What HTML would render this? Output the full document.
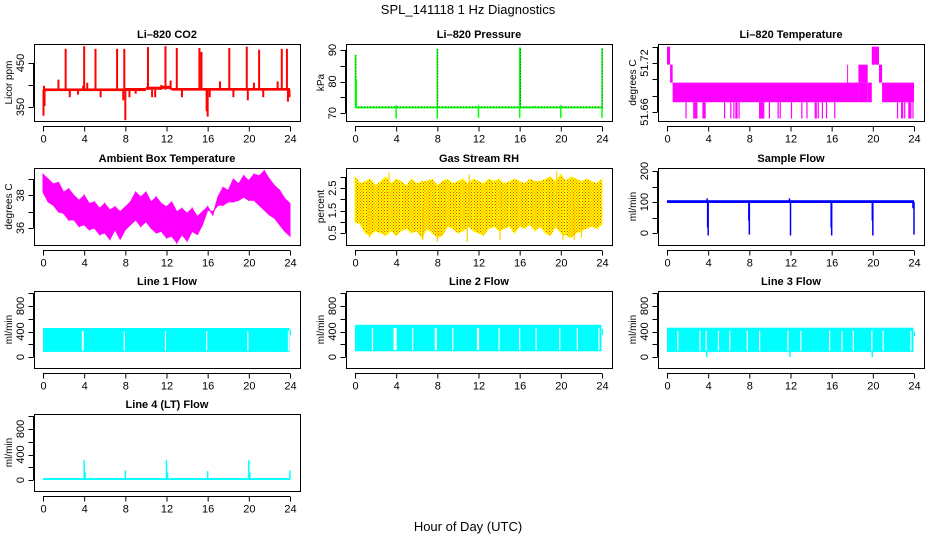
<!DOCTYPE html>
<html><head><meta charset="utf-8"><style>
html,body{margin:0;padding:0;background:#fff}
svg{display:block}
text{font-family:"Liberation Sans",sans-serif}
</style></head><body>
<svg id="c" width="936" height="540" viewBox="0 0 936 540" xmlns="http://www.w3.org/2000/svg">
<defs>
<pattern id="rhdots" width="3" height="3" patternUnits="userSpaceOnUse"><rect x="0" y="0" width="1" height="1" fill="#ff0000"/><rect x="1.5" y="1.5" width="1" height="1" fill="#ff0000"/></pattern>
</defs>
<text x="468" y="14" text-anchor="middle" font-size="13">SPL_141118  1 Hz Diagnostics</text>
<text x="468" y="531" text-anchor="middle" font-size="13">Hour of Day (UTC)</text>
</svg>
<script>
// ---- data ----
const xTicks = [0,4,8,12,16,20,24];
// CO2
const co2Base = [[0,386,392],[8,386,393],[10,389,396],[11.5,391,398],[12.5,387,393],[24,387,393]];
const co2Spikes = [[0.05,330],[0.1,398],[0.15,352],[1.5,412],[2.2,482],[2.6,372],[3.4,378],[3.9,398],[4.0,488],[4.3,405],[5.1,482],[5.6,372],[7.2,482],[7.9,482],[8.0,320],[7.8,365],[8.4,372],[9.0,380],[10.2,486],[10.6,372],[10.9,372],[11.9,488],[11.5,400],[12.4,410],[13.0,484],[13.5,372],[15.2,484],[15.4,475],[15.9,340],[16.0,328],[16.2,372],[17.2,408],[18.1,484],[18.5,372],[19.8,487],[19.9,365],[20.5,405],[21.0,480],[21.4,372],[22.8,408],[23.2,482],[23.7,482],[23.8,362],[23.95,372]];
// Pressure
const presBase = 71.8;
const presSpikes = [[0.05,88.5],[0.12,81],[8.0,90.4],[16.0,90.8],[16.05,90.8],[24.0,90.6],[4.0,68.3],[4.0,72.5],[8.0,68.3],[12.0,68.5],[12.0,72.5],[16.0,68.5],[17.5,72.3],[20.0,68.5],[20.0,72.5],[24.0,68.5]];
// Li-820 temperature: segments [start,end,lo,hi]
const tempSegs = [[0.0,0.3,51.718,51.740],[0.3,0.55,51.696,51.718],[0.55,18.6,51.672,51.696],[17.5,17.55,51.696,51.718],[18.6,19.5,51.696,51.718],[18.6,19.5,51.672,51.696],[19.5,19.9,51.672,51.696],[19.9,20.6,51.718,51.740],[20.6,20.9,51.696,51.718],[20.9,24.0,51.672,51.696]];
const tempDips = [1.85,2.6,2.7,2.8,2.9,3.5,3.6,3.7,5.6,6.2,6.5,6.7,6.8,7.0,9.0,9.1,9.2,9.3,9.4,9.95,10.8,11.0,12.1,13.1,13.6,14.4,14.5,14.7,15.1,15.5,16.3,22.4,22.8,22.9,23.1,23.5,23.6,23.7,23.9];
const tempLow = 51.652;
// Ambient box temperature (half-hour bins)
const ambHi = [39.3,39.0,38.7,38.8,38.2,38.4,38.0,37.7,38.0,37.5,37.6,37.2,37.5,37.1,37.3,37.0,37.3,37.6,38.2,37.9,38.2,37.6,37.9,37.5,37.3,37.6,37.0,37.2,36.9,37.2,36.7,37.0,37.3,36.8,37.9,38.5,38.3,39.0,38.7,39.2,38.9,39.3,39.2,39.5,39.0,38.6,38.3,37.8,37.5];
const ambLo = [38.2,37.6,37.4,37.0,36.9,36.5,36.5,36.1,36.2,35.9,36.0,35.6,35.7,35.3,35.9,35.3,35.9,36.2,36.5,36.1,36.4,36.0,35.7,35.8,35.4,35.5,35.1,35.6,35.2,35.8,35.6,36.2,37.1,37.0,37.4,37.4,37.6,37.6,37.7,37.9,37.7,37.7,37.4,37.1,36.8,36.6,36.2,35.8,35.5];
// Gas stream RH (half-hour bins)
const rhHi = [3.0,2.7,2.8,2.9,2.6,2.8,3.0,2.7,2.9,2.8,2.6,2.9,2.7,2.8,2.8,2.9,2.6,2.8,2.9,2.7,2.8,2.9,2.7,2.9,2.8,2.7,2.9,2.8,2.9,2.7,2.8,2.9,2.8,2.7,2.9,2.8,2.8,2.9,3.0,2.8,3.1,2.8,3.0,2.9,2.8,2.9,2.8,2.7,2.9];
const rhLo = [1.0,0.9,0.5,0.4,0.6,0.5,0.4,0.6,0.4,0.6,0.7,0.5,0.6,0.3,0.7,0.5,0.3,0.4,0.8,0.7,0.5,0.6,0.8,0.6,0.5,0.4,0.7,0.8,0.6,0.7,0.8,0.5,0.8,0.7,0.9,0.6,0.8,0.5,0.4,0.8,0.5,0.4,0.3,0.5,0.6,0.7,0.8,0.7,0.9];
const rhSpikes = [[3.3,3.2],[8.0,0.1],[10.9,0.1],[19.6,3.25],[20.2,0.2],[21.3,0.2],[22.0,0.3],[14.1,0.2],[6.6,0.2],[1.4,0.3],[11.1,3.1]];
// Sample flow
const sfBase = [97,106];
const sfSpikes = [[4.0,-8],[3.95,18],[8.0,-5],[7.95,40],[12.0,-8],[16.0,-8],[15.95,18],[20.0,-8],[19.95,40],[24.0,-5],[23.9,80],[3.9,112],[11.9,112]];
// Line flows
const l1Band = [80,455];
const l1Gaps = [3.83,3.9,7.9,11.9,15.9,19.9,23.85];
const l1Tail = [24.0,24.1,340,420];
const l2Band = [90,505];
const l2Gaps = [1.7,3.8,3.9,4.0,5.6,7.8,7.9,9.5,11.9,12.0,14.0,16.0,17.6,19.9,21.6,23.7];
const l2Tail = [24.0,24.1,340,440];
const l3Band = [80,460];
const l3Gaps = [1.05,3.2,3.8,5.0,6.1,7.8,9.0,11.75,13.0,15.8,17.0,18.1,19.9,21.0,23.7];
const l3Dips = [[3.85,0],[11.95,0],[19.95,0]];
const l3Tail = [24.0,24.1,330,400];
const l4Band = [0,30];
const l4Spikes = [[4.0,310],[4.1,120],[8.0,150],[12.0,310],[12.1,120],[16.0,140],[20.0,310],[20.1,120],[24.0,150]];

// ---- drawing ----
const svg = document.getElementById('c');
const NS = 'http://www.w3.org/2000/svg';
const colL = [34,346,658], rowT = [44,168,291,414], BW = 266, BH = 77;
function mk(tag, attrs, parent){
  const e = document.createElementNS(NS, tag);
  for (const k in attrs) e.setAttribute(k, attrs[k]);
  (parent||svg).appendChild(e);
  return e;
}
function panel(name, col, row, title, ylab, ylim, yticks, ylabels){
  const L = colL[col], T = rowT[row];
  const g = mk('g', {});
  
  
  const sx = t => L + 9 + t * 247 / 24;
  const sy = v => T + BH - (v - ylim[0]) / (ylim[1] - ylim[0]) * BH;
  const dg = mk('g', {}, g);
  
  
  // box
  const box = mk('rect', {x:L+0.5, y:T+0.5, width:BW, height:BH, fill:'none', stroke:'#000', 'stroke-width':1}, g);
  
  
  // title
  const tt = mk('text', {x:L+BW/2, y:T-6, 'text-anchor':'middle', 'font-size':11, 'font-weight':'bold'}, g);
  tt.textContent = title;
  
  
  // x axis
  const xa = mk('g', {}, g);
  
  
  const ay = T + BH + 5.5;
  mk('line', {x1:sx(0), x2:sx(24), y1:ay, y2:ay, stroke:'#000'}, xa);
  xTicks.forEach(t => {
    mk('line', {x1:sx(t)+0.5, x2:sx(t)+0.5, y1:ay, y2:ay+5, stroke:'#000'}, xa);
    const tx = mk('text', {x:sx(t)+0.5, y:ay+16, 'text-anchor':'middle', 'font-size':11}, xa);
    tx.textContent = t;
  });
  // y axis
  const ya = mk('g', {}, g);
  
  
  const ax = L - 0.5;
  mk('line', {x1:ax, x2:ax, y1:sy(yticks[0]), y2:sy(yticks[yticks.length-1]), stroke:'#000'}, ya);
  yticks.forEach(v => {
    const y = Math.round(sy(v)) + 0.5;
    mk('line', {x1:ax-5, x2:ax, y1:y, y2:y, stroke:'#000'}, ya);
  });
  ylabels.forEach(v => {
    const y = sy(v);
    const tx = mk('text', {x:0, y:0, 'text-anchor':'middle', 'font-size':11, transform:`translate(${L-10},${y}) rotate(-90)`}, ya);
    tx.textContent = v;
  });
  const yl = mk('text', {x:0, y:0, 'text-anchor':'middle', 'font-size':10, transform:`translate(${L-22},${T+BH/2}) rotate(-90)`}, ya);
  yl.textContent = ylab;
  
  
  return {g:dg, sx, sy};
}
function vline(p, t, v1, v2, color, w){
  return mk('line', {x1:p.sx(t), x2:p.sx(t), y1:p.sy(v1), y2:p.sy(v2), stroke:color, 'stroke-width':w||1.5}, p.g);
}
function band(p, t1, t2, lo, hi, color){
  const y1 = p.sy(hi), y2 = p.sy(lo);
  return mk('rect', {x:p.sx(t1), y:y1, width:Math.max(1,p.sx(t2)-p.sx(t1)), height:Math.max(1.5,y2-y1), fill:color}, p.g);
}

// CO2
let p = panel('co2', 0, 0, 'Li\u2013820 CO2', 'Licor ppm', [318,493], [350,400,450], [350,450]);
co2Base.forEach((b,i) => { if (i < co2Base.length-1) band(p, b[0], co2Base[i+1][0], b[1], b[2], '#ff0000'); });
co2Spikes.forEach(s => vline(p, s[0], 389, s[1], '#ff0000', 2));

// Pressure
p = panel('pressure', 1, 0, 'Li\u2013820 Pressure', 'kPa', [67.5,91.9], [70,75,80,85,90], [70,80,90]);
band(p, 0, 24, presBase-0.3, presBase+0.3, '#00ff00');
mk('line', {x1:p.sx(0), x2:p.sx(24), y1:p.sy(presBase)-0.5, y2:p.sy(presBase)-0.5, stroke:'#000', 'stroke-dasharray':'1,2', 'stroke-width':0.7}, p.g);
presSpikes.forEach(s => {
  vline(p, s[0], presBase, s[1], '#00ff00', 1.5);
  if (s[1] > 85) mk('line', {x1:p.sx(s[0])+0.5, x2:p.sx(s[0])+0.5, y1:p.sy(presBase), y2:p.sy(s[1]), stroke:'#000', 'stroke-dasharray':'1,2', 'stroke-width':0.7}, p.g);
});

// Li-820 Temperature
p = panel('li820-temp', 2, 0, 'Li\u2013820 Temperature', 'degrees C', [51.649,51.7433], [51.66,51.68,51.70,51.72,51.74], [51.66,51.72]);
tempSegs.forEach(s => band(p, s[0], s[1], s[2], s[3], '#ff00ff'));
tempDips.forEach(t => vline(p, t, 51.672, tempLow, '#ff00ff', 1.2));

// Ambient
p = panel('ambient-temp', 0, 1, 'Ambient Box Temperature', 'degrees C', [34.96,39.68], [36,37,38,39], [36,38]);
ambHi.forEach((h,i) => {
  if (i < ambHi.length-1) {
    const t1 = i*0.5, t2 = t1+0.5;
    mk('polygon', {points:`${p.sx(t1)},${p.sy(h)} ${p.sx(t2)},${p.sy(ambHi[i+1])} ${p.sx(t2)},${p.sy(ambLo[i+1])} ${p.sx(t1)},${p.sy(ambLo[i])}`, fill:'#ff00ff', stroke:'#ff00ff', 'stroke-width':1}, p.g);
  }
});

// RH
p = panel('rh', 1, 1, 'Gas Stream RH', 'percent', [-0.036,3.40], [0.5,1,1.5,2,2.5,3], [0.5,1.5,2.5]);
rhHi.forEach((h,i) => {
  if (i < rhHi.length-1) {
    const t1 = i*0.5, t2 = t1+0.5;
    const pts = `${p.sx(t1)},${p.sy(h)} ${p.sx(t2)},${p.sy(rhHi[i+1])} ${p.sx(t2)},${p.sy(rhLo[i+1])} ${p.sx(t1)},${p.sy(rhLo[i])}`;
    mk('polygon', {points:pts, fill:'#ffff00', stroke:'#ffff00', 'stroke-width':1}, p.g);
    mk('polygon', {points:pts, fill:'url(#rhdots)', opacity:0.8}, p.g);
  }
});
rhSpikes.forEach(s => vline(p, s[0], 1.7, s[1], '#ffcc00', 1.2));

// Sample flow
p = panel('sample-flow', 2, 1, 'Sample Flow', 'ml/min', [-38.7,210], [0,50,100,150,200], [0,100,200]);
band(p, 0, 24, sfBase[0], sfBase[1], '#0000ff');
sfSpikes.forEach(s => vline(p, s[0], 100, s[1], '#0000ff', 1.5));

// Line flows
const flowTicks = [0,200,400,600,800,1000], flowLabs = [0,400,800];
function flowPanel(name, col, row, title, bandV, gaps, tail){
  const q = panel(name, col, row, title, 'ml/min', [-172,1035], flowTicks, flowLabs);
  band(q, 0, 23.95, bandV[0], bandV[1], '#00ffff');
  gaps.forEach(t => mk('line', {x1:q.sx(t), x2:q.sx(t), y1:q.sy(bandV[1]-50), y2:q.sy(bandV[0]+20), stroke:'#fff', 'stroke-width':1.2}, q.g));
  if (tail) band(q, tail[0], tail[1], tail[2], tail[3], '#00ffff');
  return q;
}
flowPanel('line1-flow', 0, 2, 'Line 1 Flow', l1Band, l1Gaps, l1Tail);
flowPanel('line2-flow', 1, 2, 'Line 2 Flow', l2Band, l2Gaps, l2Tail);
p = flowPanel('line3-flow', 2, 2, 'Line 3 Flow', l3Band, l3Gaps, l3Tail);
l3Dips.forEach(s => vline(p, s[0], 90, s[1], '#00ffff', 1.5));
p = panel('line4-flow', 0, 3, 'Line 4 (LT) Flow', 'ml/min', [-172,1035], flowTicks, flowLabs);
band(p, 0, 24, l4Band[0], l4Band[1], '#00ffff');
l4Spikes.forEach(s => vline(p, s[0], 15, s[1], '#00ffff', 1.5));
</script>
</body></html>
